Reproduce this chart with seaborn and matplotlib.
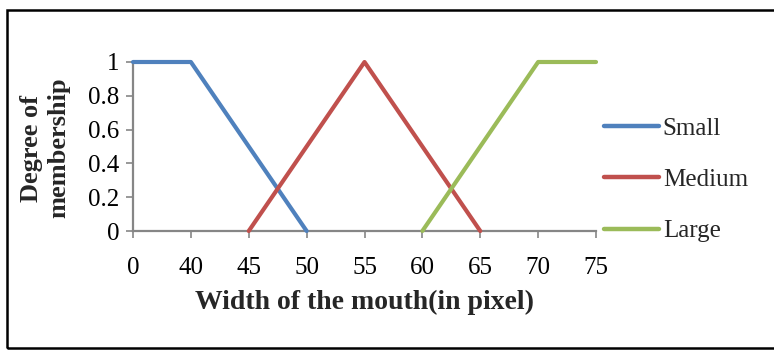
import matplotlib
matplotlib.use("Agg")
import matplotlib.pyplot as plt
from matplotlib.patches import Rectangle
import seaborn as sns
import pandas as pd

# Category axis (equally spaced labels)
categories = ["0", "40", "45", "50", "55", "60", "65", "70", "75"]

# Membership functions: defined points of each series
small_x = ["0", "40", "50"]
small_y = [1, 1, 0]
medium_x = ["45", "55", "65"]
medium_y = [0, 1, 0]
large_x = ["60", "70", "75"]
large_y = [0, 1, 1]

series_names = ["Small", "Medium", "Large"]
colors = ["#4F81BD", "#C0504D", "#9BBB59"]

rows = []
for name, xs, ys in [("Small", small_x, small_y),
                     ("Medium", medium_x, medium_y),
                     ("Large", large_x, large_y)]:
    for cx, cy in zip(xs, ys):
        rows.append({"pos": categories.index(cx), "value": cy, "series": name})
df = pd.DataFrame(rows)

sns.set_style("white")
plt.rcParams["font.family"] = ["Liberation Serif", "DejaVu Serif"]

fig = plt.figure(figsize=(7.74, 3.5), dpi=100)
ax = fig.add_axes([133 / 774, 1 - 231 / 350, (596 - 133) / 774, (231 - 62) / 350])

sns.lineplot(data=df, x="pos", y="value", hue="series", hue_order=series_names,
             palette=colors, linewidth=3.0, ax=ax, legend=False,
             estimator=None, sort=False)
for ln in ax.lines:
    ln.set_clip_on(False)
    ln.set_solid_capstyle("round")

ax.set_xlim(0, len(categories) - 1)
ax.set_ylim(0, 1)
ax.set_xticks(range(len(categories)))
ax.set_xticklabels(categories)
ax.set_yticks([0, 0.2, 0.4, 0.6, 0.8, 1])
ax.set_yticklabels(["0", "0.2", "0.4", "0.6", "0.8", "1"])

gray = "#868686"
for side in ["top", "right"]:
    ax.spines[side].set_visible(False)
for side in ["left", "bottom"]:
    ax.spines[side].set_color(gray)
    ax.spines[side].set_linewidth(1.6)
    ax.spines[side].set_zorder(0)
ax.tick_params(axis="both", direction="out", length=5, width=1.2, color=gray,
               labelsize=18, labelcolor="black")
ax.tick_params(axis="x", pad=14, bottom=True)
ax.tick_params(axis="y", pad=5, left=True)

ax.set_xlabel("Width of the mouth(in pixel)", fontsize=20, fontweight="bold")
ax.xaxis.set_label_coords(0.5, -(302 - 231) / 169, transform=ax.transAxes)
ax.xaxis.label.set_va("center")

ax.set_ylabel("Degree of\nmembership", fontsize=19, fontweight="bold",
              linespacing=1.25)
ax.yaxis.set_label_coords(-(133 - 45) / 463, (231 - 148) / 169, transform=ax.transAxes)
ax.yaxis.label.set_va("center")

handles = [plt.Line2D([], [], color=c, linewidth=3.2, solid_capstyle="round") for c in colors]
fig.legend(handles, series_names, loc="center left",
           bbox_to_anchor=(599 / 774, 1 - 180 / 350), frameon=False,
           fontsize=18, handlelength=2.2, handletextpad=0.15, labelspacing=1.15,
           borderaxespad=0, borderpad=0.2)

# Outer chart frame
fig.patches.append(Rectangle((7 / 774, 2 / 350), 1.2, 1 - 12 / 350,
                             transform=fig.transFigure, fill=False,
                             edgecolor="black", linewidth=1.8))

fig.savefig("out.png", dpi=100)
